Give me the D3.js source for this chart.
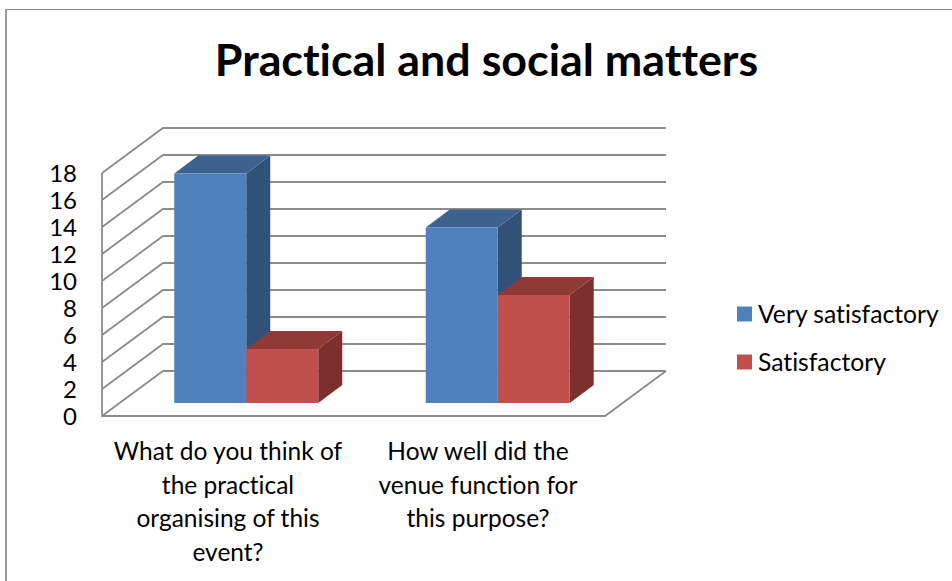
<!DOCTYPE html>
<html><head><meta charset="utf-8">
<script src="https://cdnjs.cloudflare.com/ajax/libs/d3/7.8.5/d3.min.js"></script>
<style>html,body{margin:0;padding:0;background:#fff}svg{display:block}text{font-family:Lato,"Open Sans",sans-serif;fill:#000;font-variant-ligatures:none}</style>
</head><body><svg id="c" width="952" height="581"></svg>
<script>
const title = "Practical and social matters";
const categories = ["What do you think of the practical organising of this event?", "How well did the venue function for this purpose?"];
const categoryLines = [["What do you think of","the practical","organising of this","event?"],["How well did the","venue function for","this purpose?"]];
const seriesNames = ["Very satisfactory","Satisfactory"];
const verySatisfactory = [17,13];
const satisfactory = [4,8];
const yTicks = [0,2,4,6,8,10,12,14,16,18];
const seriesFront = ["#4f81bd","#c0504d"];
const seriesTop = ["#3e628f","#903a38"];
const seriesSide = ["#325178","#7b302e"];

const svg = d3.select("#c");
svg.append("rect").attr("x",6).attr("y",9.5).attr("width",960).attr("height",600).attr("fill","#fff").attr("stroke","#8c8c8c").attr("stroke-width",1);
svg.append("rect").attr("x",5).attr("y",9).attr("width",2).attr("height",572).attr("fill","#999");
svg.append("text").attr("x",486.5).attr("y",76).attr("text-anchor","middle").attr("font-size",44.8).attr("font-weight",700).text(title);

const dx=61, dy=-45, barDx=24, barDy=-18;
const y = d3.scaleLinear().domain([0,18]).range([416,173]);
const x0 = d3.scaleBand().domain(categories).range([102,605]);
const bw = 72, depthShift = 18.5;
const x1 = (i,s)=> x0(categories[i]) + x0.bandwidth()/2 - bw + s*bw + depthShift;

const wall = svg.append("g").attr("fill","none").attr("stroke","#8c8c8c").attr("stroke-width",1.8);
yTicks.forEach(t=>{
  const yy=y(t);
  wall.append("path").attr("d",`M${102},${yy}L${102+dx},${yy+dy}L${605+dx},${yy+dy}`);
});
wall.append("path").attr("d",`M102,${y(18)}V${y(0)}H605L${605+dx},${y(0)+dy}`);

const baseShift=-13;
const yb = v => y(v)+baseShift;
[0,1].forEach(i=>{
  [verySatisfactory,satisfactory].forEach((vals,s)=>{
    const g=svg.append("g");
    const L=x1(i,s), R=L+bw, T=yb(vals[i]), B=yb(0);
    g.append("path").attr("fill",seriesSide[s]).attr("d",`M${R},${T}L${R+barDx},${T+barDy}L${R+barDx},${B+barDy}L${R},${B}Z`);
    g.append("path").attr("fill",seriesTop[s]).attr("d",`M${L},${T}L${L+barDx},${T+barDy}L${R+barDx},${T+barDy}L${R},${T}Z`);
    g.append("rect").attr("fill",seriesFront[s]).attr("x",L).attr("y",T).attr("width",bw).attr("height",B-T);
  });
});

svg.append("g").selectAll("text").data(yTicks).join("text")
  .attr("x",77).attr("y",d=>y(d)+9).attr("text-anchor","end").attr("font-size",24).text(d=>d);

const catCx=[228,478];
categoryLines.forEach((ls,i)=>{
  ls.forEach((l,j)=>svg.append("text").attr("x",catCx[i]).attr("y",460+j*33.5).attr("text-anchor","middle").attr("font-size",24.5).text(l));
});

seriesNames.forEach((n,i)=>{
  const ly=[314,362][i];
  svg.append("rect").attr("x",737).attr("y",ly-7.5).attr("width",15).attr("height",15).attr("fill",seriesFront[i]);
  svg.append("text").attr("x",758).attr("y",ly+9).attr("font-size",24.7).text(n);
});
</script></body></html>
